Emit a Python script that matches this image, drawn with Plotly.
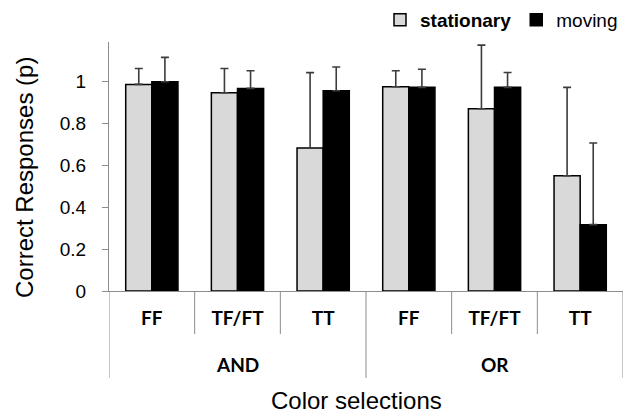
import plotly.graph_objects as go

# ---- data ----
groups = ["AND", "OR"]
conditions = ["FF", "TF/FT", "TT"]
categories = ["FF", "TF/FT", "TT", "FF", "TF/FT", "TT"]
stationary = [0.984, 0.944, 0.681, 0.973, 0.868, 0.549]
stationary_err = [0.076, 0.116, 0.359, 0.076, 0.303, 0.421]
moving = [0.997, 0.965, 0.954, 0.970, 0.970, 0.316]
moving_err = [0.116, 0.084, 0.113, 0.086, 0.071, 0.389]
y_ticks = [0, 0.2, 0.4, 0.6, 0.8, 1]
y_tick_labels = ["0", "0.2", "0.4", "0.6", "0.8", "1"]

x = list(range(len(categories)))
ERR = "#3c3c3c"
AXC = "#8c8c8c"

fig = go.Figure()
fig.add_trace(go.Bar(
    x=x, y=stationary, name="<b>stationary</b>",
    marker=dict(color="#d9d9d9", line=dict(color="black", width=1.5)),
    error_y=dict(type="data", symmetric=False, array=stationary_err,
                 arrayminus=[0] * len(stationary), color=ERR, thickness=1.6, width=4),
))
fig.add_trace(go.Bar(
    x=x, y=moving, name="moving",
    marker=dict(color="#000000", line=dict(color="black", width=1.5)),
    error_y=dict(type="data", symmetric=False, array=moving_err,
                 arrayminus=[0] * len(moving), color=ERR, thickness=1.6, width=4),
))

# dividers below the axis (structural, derived from category index)
n = len(categories)
per = len(conditions)
for i in range(n + 1):
    b = i - 0.5
    is_group = (i % per == 0)
    fig.add_shape(type="line", xref="x", yref="paper",
                  x0=b, x1=b, y0=0, y1=(-0.349 if is_group else -0.173),
                  line=dict(color=AXC, width=1))

# group labels
for gi, g in enumerate(groups):
    cx = gi * per + (per - 1) / 2
    fig.add_annotation(text=g, x=cx, xref="x", y=-(364 - 291) / 249, yref="paper",
                       showarrow=False, font=dict(family="Lato", size=19, weight="bold", color="black"),
                       xanchor="center", yanchor="middle")

# axis titles
fig.add_annotation(text="Color selections", xref="paper", yref="paper",
                   x=(356 - 109) / 514, y=-(400 - 291) / 249, showarrow=False,
                   xanchor="center", yanchor="middle",
                   font=dict(family="Liberation Sans", size=24, color="black"))
fig.add_annotation(text="Correct Responses (p)", xref="paper", yref="paper",
                   x=-(109 - 24) / 514, y=(291 - 178) / 249, showarrow=False,
                   textangle=-90, xanchor="center", yanchor="middle",
                   font=dict(family="Liberation Sans", size=24, color="black"))

fig.update_layout(
    width=623, height=414, autosize=False,
    margin=dict(l=109, r=0, t=42, b=123, autoexpand=False),
    paper_bgcolor="white", plot_bgcolor="white",
    barmode="group", bargap=0.39, bargroupgap=0,
    showlegend=True,
    legend=dict(orientation="h", x=(380 - 109) / 514, xanchor="left",
                y=1 + (42 - 20) / 249, yanchor="middle",
                font=dict(family="Liberation Sans", size=19, color="black"),
                bgcolor="rgba(0,0,0,0)", traceorder="normal", borderwidth=0),
    xaxis=dict(range=[-0.5, n - 0.5], tickvals=x, ticktext=categories,
               showline=True, linecolor=AXC, linewidth=1, ticks="",
               showgrid=False, zeroline=False, ticklabelstandoff=10, automargin=False,
               tickfont=dict(family="Lato", size=19, weight="bold", color="black")),
    yaxis=dict(range=[0, 1.186], tickvals=y_ticks, ticktext=y_tick_labels,
               showline=True, linecolor=AXC, linewidth=1, ticks="outside",
               ticklen=6, tickcolor=AXC, showgrid=False, zeroline=False,
               ticklabelstandoff=12, automargin=False,
               tickfont=dict(family="Liberation Sans", size=19, color="black")),
)

fig.write_html("out.html", config={"displayModeBar": False},
               post_script="document.body.style.margin='0';document.body.style.padding='0';")
